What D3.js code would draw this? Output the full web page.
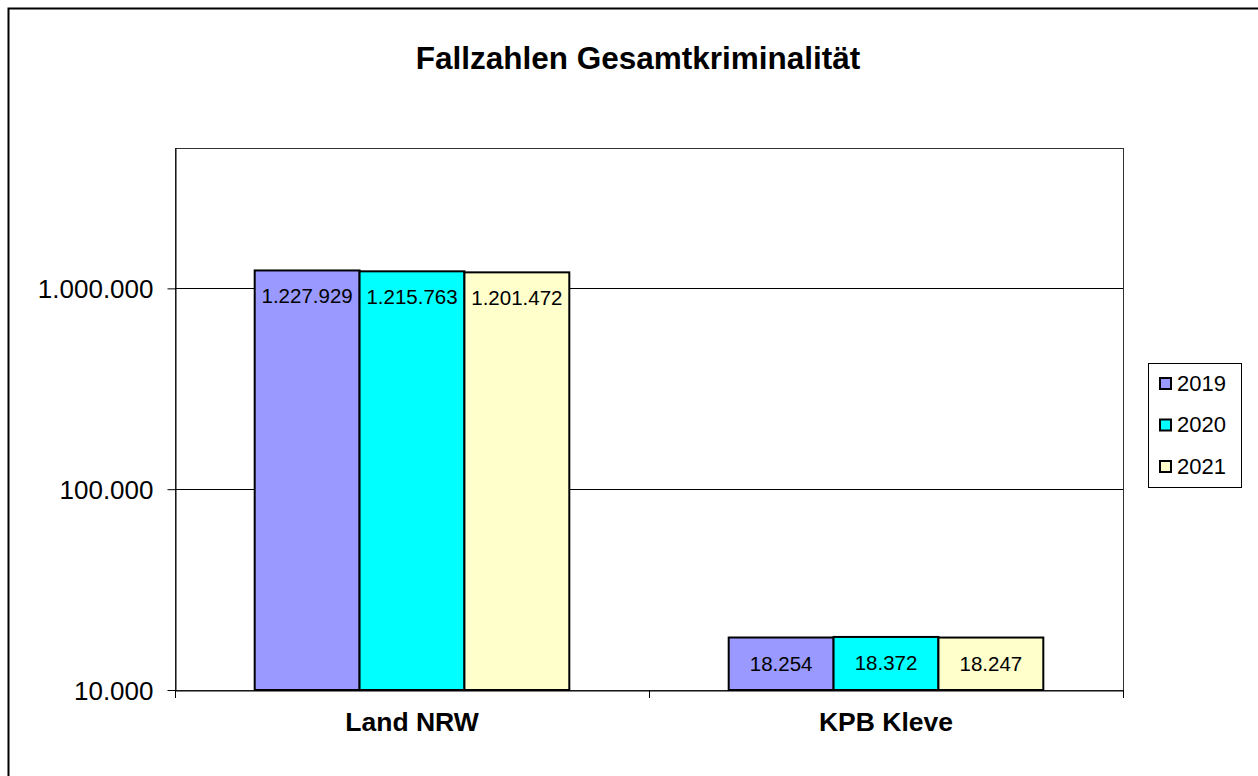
<!DOCTYPE html>
<html>
<head>
<meta charset="utf-8">
<script src="https://cdn.jsdelivr.net/npm/d3@7"></script>
<style>
  body { margin: 0; background: #fff; }
  text { font-family: "Liberation Sans", Arial, sans-serif; fill: #000; }
</style>
</head>
<body>
<div id="chart"></div>
<script>
const categories = ["Land NRW", "KPB Kleve"];
const years = ["2019", "2020", "2021"];
const values2019 = [1227929, 18254];
const values2020 = [1215763, 18372];
const values2021 = [1201472, 18247];
const yTicks = [10000, 100000, 1000000];
const colors = ["#9999FF", "#00FFFF", "#FFFFCC"];

const width = 1258;
const height = 776;
const margin = { top: 148, right: 135, bottom: 86, left: 175 };

const de = d3.formatLocale({ decimal: ",", thousands: ".", grouping: [3], currency: ["", " €"] });
const fmt = de.format(",d");

const seriesValues = [values2019, values2020, values2021];
const data = categories.map((c, i) => ({
  category: c,
  values: years.map((y, j) => ({ year: y, value: seriesValues[j][i], color: colors[j] }))
}));

const svg = d3.select("#chart")
  .append("svg")
  .attr("width", width)
  .attr("height", height);

// outer chart border
svg.append("rect")
  .attr("x", 8.5).attr("y", 8.5)
  .attr("width", width + 20).attr("height", height + 20)
  .attr("fill", "none")
  .attr("stroke", "#000")
  .attr("stroke-width", 2);

svg.append("text")
  .attr("x", 638)
  .attr("y", 69)
  .attr("text-anchor", "middle")
  .attr("font-size", 31.5)
  .attr("font-weight", "bold")
  .text("Fallzahlen Gesamtkriminalität");

const x0 = d3.scaleBand()
  .domain(categories)
  .range([margin.left, width - margin.right]);

const x1 = d3.scaleBand()
  .domain(years)
  .range([0, x0.bandwidth()])
  .paddingInner(0)
  .paddingOuter(0.76);

const y = d3.scaleLog()
  .domain([10000, 5000000])
  .range([height - margin.bottom, margin.top]);

// plot area border
svg.append("rect")
  .attr("x", margin.left + 0.5)
  .attr("y", margin.top + 0.5)
  .attr("width", width - margin.right - margin.left)
  .attr("height", height - margin.bottom - margin.top)
  .attr("fill", "none")
  .attr("stroke", "#333")
  .attr("stroke-width", 1);

// gridlines
svg.append("g")
  .selectAll("line")
  .data(yTicks.slice(1))
  .join("line")
  .attr("x1", margin.left)
  .attr("x2", width - margin.right)
  .attr("y1", d => Math.round(y(d)) + 0.5)
  .attr("y2", d => Math.round(y(d)) + 0.5)
  .attr("stroke", "#000");

// y axis
const yAxis = svg.append("g")
  .attr("transform", `translate(${margin.left + 0.5},0)`)
  .call(d3.axisLeft(y).tickValues(yTicks).tickFormat(fmt).tickSize(8).tickSizeOuter(0).tickPadding(14));
yAxis.select(".domain").attr("stroke", "#000");
yAxis.selectAll(".tick text")
  .attr("font-size", 26)
  .attr("font-family", "Liberation Sans, Arial, sans-serif")
  .attr("dy", "0.36em");

// x axis
const xAxis = svg.append("g")
  .attr("transform", `translate(0,${height - margin.bottom + 0.5})`)
  .call(d3.axisBottom(x0).tickSize(0).tickSizeOuter(0).tickPadding(22));
xAxis.select(".domain").attr("stroke", "#000");
xAxis.selectAll(".tick text")
  .attr("font-size", 26.5)
  .attr("font-weight", "bold")
  .attr("font-family", "Liberation Sans, Arial, sans-serif");

// category separator ticks
const sepTicks = categories.map(c => x0(c)).concat([x0.range()[1]]);
svg.append("g")
  .selectAll("line")
  .data(sepTicks)
  .join("line")
  .attr("x1", d => Math.round(d) + 0.5)
  .attr("x2", d => Math.round(d) + 0.5)
  .attr("y1", height - margin.bottom)
  .attr("y2", height - margin.bottom + 8)
  .attr("stroke", "#000");

// bars
const groups = svg.append("g")
  .selectAll("g")
  .data(data)
  .join("g")
  .attr("transform", d => `translate(${x0(d.category)},0)`);

groups.selectAll("rect")
  .data(d => d.values)
  .join("rect")
  .attr("x", d => x1(d.year))
  .attr("y", d => y(d.value))
  .attr("width", x1.bandwidth())
  .attr("height", d => y(10000) - y(d.value))
  .attr("fill", d => d.color)
  .attr("stroke", "#000")
  .attr("stroke-width", 2);

groups.selectAll("text")
  .data(d => d.values)
  .join("text")
  .attr("x", d => x1(d.year) + x1.bandwidth() / 2)
  .attr("y", d => y(d.value) + 33)
  .attr("text-anchor", "middle")
  .attr("font-size", 20.5)
  .text(d => fmt(d.value));

// legend
const legend = svg.append("g").attr("transform", "translate(1148,363)");
legend.append("rect")
  .attr("x", 0.5).attr("y", 0.5)
  .attr("width", 93).attr("height", 124)
  .attr("fill", "#fff")
  .attr("stroke", "#000");

const items = legend.selectAll("g.item")
  .data(years)
  .join("g")
  .attr("class", "item")
  .attr("transform", (d, i) => `translate(0,${20 + i * 41.5})`);

items.append("rect")
  .attr("x", 12).attr("y", -5)
  .attr("width", 11).attr("height", 11)
  .attr("fill", (d, i) => colors[i])
  .attr("stroke", "#000")
  .attr("stroke-width", 2);

items.append("text")
  .attr("x", 29)
  .attr("y", 0)
  .attr("dy", "0.36em")
  .attr("font-size", 22)
  .text(d => d);
</script>
</body>
</html>
